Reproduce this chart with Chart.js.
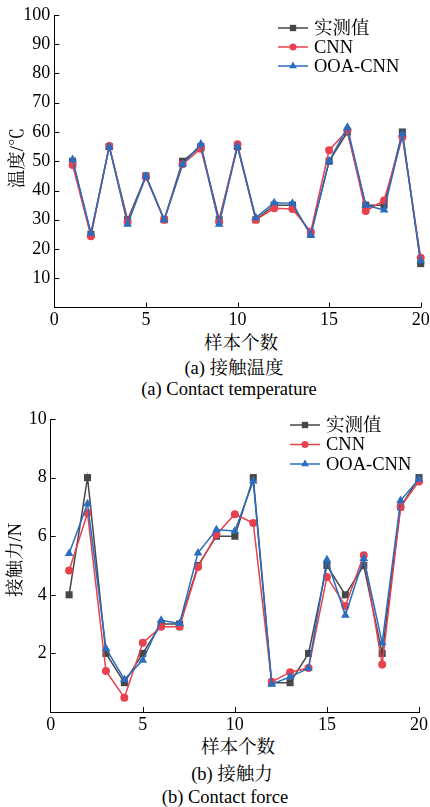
<!DOCTYPE html>
<html>
<head>
<meta charset="utf-8">
<script src="https://cdn.jsdelivr.net/npm/chart.js@4/dist/chart.umd.min.js"></script>
<style>
  html, body { margin: 0; padding: 0; background: #fff; }
  body {
    width: 430px; height: 807px; position: relative; overflow: hidden;
    font-family: "Liberation Serif", "Noto Serif CJK SC", "Noto Sans CJK SC", serif; color: #000;
  }
  canvas { position: absolute; left: 0; }
  .t { position: absolute; white-space: nowrap; transform: translate(-50%, -50%); line-height: 1; font-size: 18.5px; }
  .ylab {
    position: absolute; white-space: nowrap; line-height: 1; font-size: 18.5px;
    transform: translate(-50%, -50%) rotate(-90deg);
  }
</style>
</head>
<body>
<canvas id="tempChart" width="430" height="330" style="top:0"></canvas>
<canvas id="forceChart" width="430" height="334" style="top:400px"></canvas>

<div class="ylab" style="left:17px; top:158px;">温度/℃</div>
<div class="t" style="left:241px; top:343px;">样本个数</div>
<div class="t" style="left:234px; top:368px;">(a) 接触温度</div>
<div class="t" style="left:229px; top:389px;">(a) Contact temperature</div>

<div class="ylab" style="left:15px; top:560px;">接触力/N</div>
<div class="t" style="left:238px; top:747px;">样本个数</div>
<div class="t" style="left:232px; top:774px;">(b) 接触力</div>
<div class="t" style="left:225px; top:797px;">(b) Contact force</div>

<script>
// Sample index (x axis)
const samples = [1, 2, 3, 4, 5, 6, 7, 8, 9, 10, 11, 12, 13, 14, 15, 16, 17, 18, 19, 20];

// Contact temperature (°C)
const tempMeasured = [50, 25, 55, 30, 45, 30, 50, 55, 30, 55, 30, 35, 35, 25, 50, 60, 35, 35, 60, 15];
const tempCNN      = [48.7, 24.4, 55.2, 29.3, 44.6, 30, 49, 54.3, 29.3, 55.8, 30, 33.9, 33.7, 25.9, 53.8, 60.5, 33, 36.6, 58.3, 17];
const tempOOA      = [50.6, 25.4, 55, 28.5, 45, 30, 48.9, 55.9, 28.5, 55.1, 30.7, 35.8, 35.6, 24.8, 50.1, 61.6, 35, 33.3, 59.3, 16];

// Contact force (N)
const forceMeasured = [4, 8, 2, 1, 2, 3, 3, 5, 6, 6, 8, 1, 1, 2, 5, 4, 5, 2, 7, 8];
const forceCNN      = [4.83, 6.79, 1.4, 0.49, 2.36, 2.91, 2.91, 4.95, 6.06, 6.75, 6.45, 1.03, 1.36, 1.5, 4.61, 3.62, 5.35, 1.62, 7.0, 7.87];
const forceOOA      = [5.41, 7.11, 2.17, 1.11, 1.77, 3.13, 3.02, 5.43, 6.22, 6.18, 7.88, 0.95, 1.2, 1.49, 5.2, 3.3, 5.24, 2.36, 7.22, 7.95];

// Series names and axis ticks
const seriesNames = ['实测值', 'CNN', 'OOA-CNN'];
const xTicks = [0, 5, 10, 15, 20];
const tempTicks = [10, 20, 30, 40, 50, 60, 70, 80, 90, 100];
const forceTicks = [2, 4, 6, 8, 10];

const COLORS = ['#474747', '#e8414d', '#2a6cbf'];
const SHAPES = ['rect', 'circle', 'triangle'];
const RADII = [5, 4, 5];
const TICK_FONT = { family: '"Liberation Serif", serif', size: 18 };

function toPoints(values) {
  return samples.map((s, i) => ({ x: s, y: values[i] }));
}

function makeDatasets(series) {
  // later series are drawn on top (lower order draws last)
  return series.map((vals, i) => ({
    label: seriesNames[i],
    data: toPoints(vals),
    borderColor: COLORS[i],
    backgroundColor: COLORS[i],
    borderWidth: 1.5,
    pointStyle: SHAPES[i],
    pointRadius: RADII[i],
    pointBorderWidth: 0,
    pointHoverRadius: RADII[i],
    tension: 0,
    clip: false,
    order: series.length - 1 - i
  }));
}

// Ticks pointing into the plot area
const innerTicks = {
  id: 'innerTicks',
  afterDraw(chart) {
    const { ctx, chartArea: a, scales: { x, y } } = chart;
    ctx.save();
    ctx.strokeStyle = '#000';
    ctx.lineWidth = 1;
    ctx.beginPath();
    x.ticks.forEach(t => {
      if (t.value === x.min) return;
      const px = Math.round(x.getPixelForValue(t.value)) + 0.5;
      ctx.moveTo(px, a.bottom);
      ctx.lineTo(px, a.bottom - 5);
    });
    y.ticks.forEach(t => {
      if (t.value === y.min) return;
      const py = Math.round(y.getPixelForValue(t.value)) + 0.5;
      ctx.moveTo(a.left, py);
      ctx.lineTo(a.left + 5, py);
    });
    ctx.stroke();
    ctx.restore();
  }
};

// Legend drawn inside the plot, top right
const insideLegend = {
  id: 'insideLegend',
  afterDraw(chart, args, opts) {
    const { ctx } = chart;
    ctx.save();
    ctx.font = '18.5px "Liberation Serif", "Noto Serif CJK SC", "Noto Sans CJK SC", serif';
    ctx.textBaseline = 'middle';
    seriesNames.forEach((name, i) => {
      const ds = chart.data.datasets[i];
      const yy = opts.y + i * opts.dy;
      ctx.strokeStyle = ds.borderColor;
      ctx.lineWidth = 1.5;
      ctx.beginPath();
      ctx.moveTo(opts.x, yy);
      ctx.lineTo(opts.x + 30, yy);
      ctx.stroke();
      ctx.fillStyle = ds.backgroundColor;
      Chart.helpers.drawPoint(ctx, { pointStyle: ds.pointStyle, radius: ds.pointRadius - 0.5, borderWidth: 0 }, opts.x + 15, yy);
      ctx.fillStyle = '#000';
      ctx.fillText(name, opts.x + 36, yy + 1);
    });
    ctx.restore();
  }
};

function makeChart(id, series, yMax, yTicks, geom) {
  return new Chart(document.getElementById(id), {
    type: 'line',
    data: { datasets: makeDatasets(series) },
    options: {
      responsive: false,
      animation: false,
      devicePixelRatio: 1,
      layout: { padding: { top: geom.top, right: geom.right, left: 0, bottom: 0 } },
      plugins: {
        legend: { display: false },
        tooltip: { enabled: false },
        insideLegend: geom.legend
      },
      scales: {
        x: {
          type: 'linear',
          min: 0, max: 20,
          afterBuildTicks: s => { s.ticks = xTicks.map(v => ({ value: v })); },
          ticks: { color: '#000', font: TICK_FONT, padding: 2, maxRotation: 0, callback: v => String(v) },
          grid: { display: false, drawTicks: false },
          border: { display: true, color: '#000', width: 1 },
          afterFit: s => { s.height = geom.xh; s.paddingLeft = 0; s.paddingRight = 0; }
        },
        y: {
          type: 'linear',
          min: 0, max: yMax,
          afterBuildTicks: s => { s.ticks = [0].concat(yTicks).map(v => ({ value: v })); },
          ticks: { color: '#000', font: TICK_FONT, padding: 4, callback: v => (v === 0 ? null : String(v)) },
          grid: { display: false, drawTicks: false },
          border: { display: true, color: '#000', width: 1 },
          afterFit: s => { s.width = geom.yw; s.paddingTop = 0; s.paddingBottom = 0; }
        }
      }
    },
    plugins: [innerTicks, insideLegend]
  });
}

makeChart('tempChart', [tempMeasured, tempCNN, tempOOA], 100, tempTicks, {
  top: 15, right: 9.3, yw: 54.3, xh: 22.5,
  legend: { x: 278, y: 28, dy: 19 }
});

makeChart('forceChart', [forceMeasured, forceCNN, forceOOA], 10, forceTicks, {
  top: 19, right: 11, yw: 50.7, xh: 22,
  legend: { x: 290, y: 25, dy: 19.5 }
});
</script>
</body>
</html>
